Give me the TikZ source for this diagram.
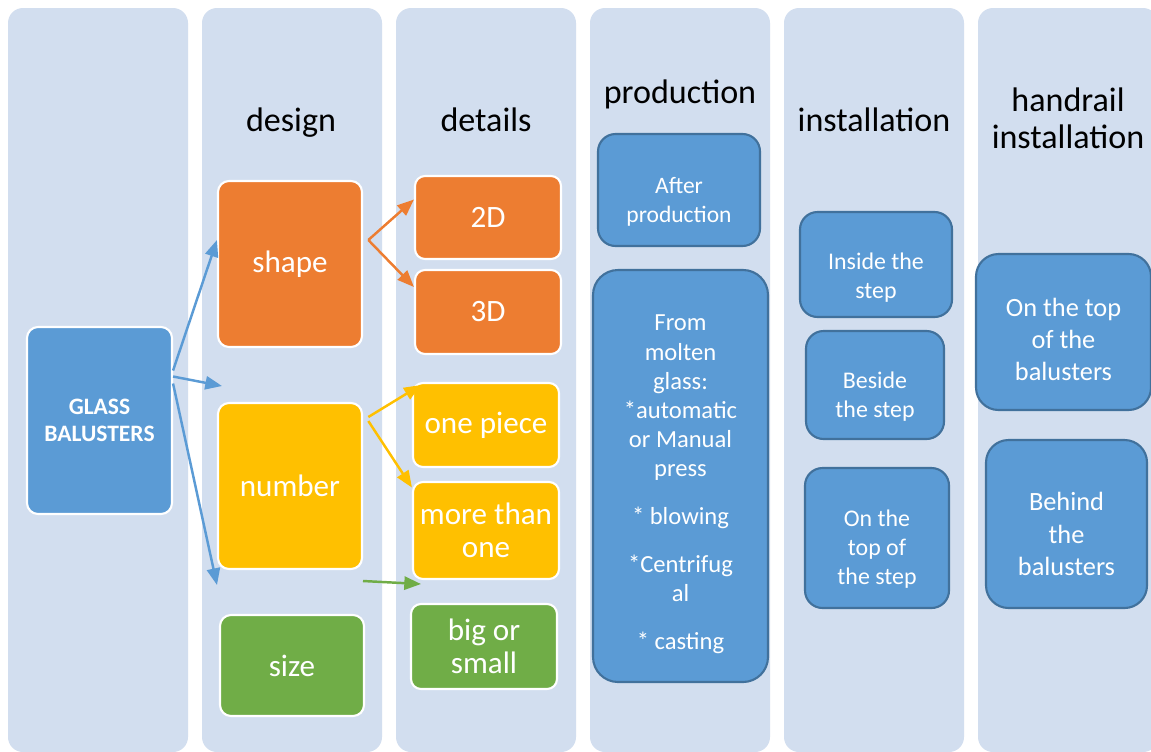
\documentclass[tikz,border=0pt]{standalone}
\usepackage{fontspec}
\setmainfont{Carlito}
\usepackage{tikz}
\usetikzlibrary{arrows.meta,positioning}
\usepackage{xcolor}

\definecolor{colbg}{HTML}{D2DEEF}
\definecolor{gblue}{HTML}{5B9BD5}
\definecolor{gbluedark}{HTML}{41719C}
\definecolor{gorange}{HTML}{ED7D31}
\definecolor{gyellow}{HTML}{FFC000}
\definecolor{ggreen}{HTML}{70AD47}

\tikzset{
    column/.style={fill=colbg, rounded corners=0.3cm},
    sz/.style 2 args={minimum width=#1*0.02cm, minimum height=#2*0.02cm},
    head/.style={align=center, inner sep=0pt, font=\fontsize{19.4}{21}\selectfont},
    item/.style={draw=white, line width=1.2pt, rounded corners=0.22cm, text=white,
        align=center, inner sep=0pt, font=\fontsize{17.7}{19}\selectfont},
    stage/.style={fill=gblue, draw=gbluedark, line width=1.2pt, rounded corners=0.35cm},
    stagetxt/.style={text=white, align=center, inner sep=0pt},
    link/.style={line width=1.4pt, -{Triangle[length=9.5pt,width=7.5pt]}},
}

\begin{document}
\begin{tikzpicture}[x=0.02cm, y=-0.02cm]
    \clip (0,0) rectangle (1151,751);
    \fill[white] (0,0) rectangle (1151,751);

    % columns
    \foreach \cx in {8,202,396,590,784,978}
        \fill[column] (\cx,8) rectangle ++(180,744);

    % headers
    \node[head] (hdesign) at (291,123) {design};
    \node[head] (hdetails) at (486,120) {details};
    \node[head] (hprod) at (680,94) {production};
    \node[head] (hinst) at (874,120) {installation};
    \node[head] (hhand) at (1068,118) {handrail\\installation};

    % root
    \node[item, fill=gblue, sz={145}{187}, font=\bfseries\fontsize{13.4}{15}\selectfont] (glass) at (99.5,420.5) {GLASS\\BALUSTERS};

    % design
    \node[item, fill=gorange, sz={144}{166}] (shape) at (290,264) {shape};
    \node[item, fill=gyellow, sz={144}{166}] (number) at (290,486) {number};
    \node[item, fill=ggreen, sz={144}{101}] (size) at (292,665.5) {size};

    % details
    \node[item, fill=gorange, sz={146}{83}, rounded corners=0.2cm] (twod) at (488,217.5) {2D};
    \node[item, fill=gorange, sz={146}{84}, rounded corners=0.2cm] (threed) at (488,312) {3D};
    \node[item, fill=gyellow, sz={146}{84}, rounded corners=0.2cm] (onepiece) at (486,425) {one piece};
    \node[item, fill=gyellow, sz={146}{97}, rounded corners=0.2cm] (morethan) at (486,530.5) {more than\\one};
    \node[item, fill=ggreen, sz={146}{85}, rounded corners=0.2cm] (bigsmall) at (484,646.5) {big or\\small};

    % production
    \node[stage, sz={162}{112},
        label={[stagetxt, yshift=-0.23cm, font=\fontsize{13.4}{16.5}\selectfont]center:{After\\production}}] (after) at (679,190) {};
    \node[stage, sz={175}{412}, rounded corners=0.5cm,
        label={[stagetxt, yshift=-0.17cm, font=\fontsize{14}{16.6}\selectfont]center:{From\\molten\\glass:\\*automatic\\or Manual\\press\\[10.7pt]* blowing\\[10.7pt]*Centrifug\\al\\[10.7pt]* casting}}] (molten) at (680.5,476) {};

    % installation
    \node[stage, sz={152}{105},
        label={[stagetxt, yshift=-0.26cm, font=\fontsize{13.6}{16.5}\selectfont]center:{Inside the\\step}}] (inside) at (876,264.5) {};
    \node[stage, sz={138}{108},
        label={[stagetxt, yshift=-0.24cm, font=\fontsize{13.6}{16.5}\selectfont]center:{Beside\\the step}}] (beside) at (875,385) {};
    \node[stage, sz={144}{140},
        label={[stagetxt, yshift=-0.22cm, font=\fontsize{13.6}{16.5}\selectfont]center:{On the\\top of\\the step}}] (topstep) at (877,538) {};

    % handrail installation
    \node[stage, sz={175}{156}, rounded corners=0.45cm,
        label={[stagetxt, yshift=-0.14cm, font=\fontsize{15}{18.2}\selectfont]center:{On the top\\of the\\balusters}}] (topbal) at (1063.5,332) {};
    \node[stage, sz={161}{168}, rounded corners=0.45cm,
        label={[stagetxt, yshift=-0.2cm, font=\fontsize{15}{18.4}\selectfont]center:{Behind\\the\\balusters}}] (behind) at (1066.5,524) {};

    % free ends
    \coordinate (gap) at (222,386);
    \coordinate (below) at (217,585);
    \coordinate (gstart) at (363,581);
    \coordinate (gend) at (421,584);

    % arrows
    \draw[link, gblue] ([yshift=1cm]glass.east) -- ([yshift=0.48cm]shape.west);
    \draw[link, gblue] ([yshift=0.88cm]glass.east) -- (gap);
    \draw[link, gblue] ([yshift=0.74cm]glass.east) -- (below);
    \draw[link, gorange] ([xshift=3pt,yshift=0.48cm]shape.east) -- ([yshift=0.36cm]twod.west);
    \draw[link, gorange] ([xshift=3pt,yshift=0.48cm]shape.east) -- ([yshift=0.5cm]threed.west);
    \draw[link, gyellow] ([xshift=3pt,yshift=1.38cm]number.east) -- ([xshift=5pt,yshift=0.8cm]onepiece.west);
    \draw[link, gyellow] ([xshift=3pt,yshift=1.3cm]number.east) -- ([yshift=0.86cm]morethan.west);
    \draw[link, ggreen] (gstart) -- (gend);
\end{tikzpicture}
\end{document}
